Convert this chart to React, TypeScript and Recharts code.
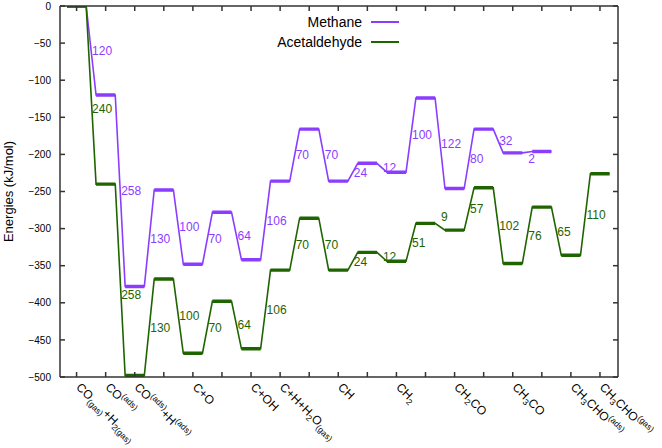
import React from 'react';
import { ComposedChart, Line, Scatter, XAxis, YAxis, Legend } from 'recharts';

const FONT = '"Liberation Sans", Arial, Helvetica, sans-serif';

// Reaction steps (x positions of the energy levels)
const steps = [0, 1, 2, 3, 4, 5, 6, 7, 8, 9, 10, 11, 12, 13, 14, 15, 16, 17, 18];
const yTicks = [0, -50, -100, -150, -200, -250, -300, -350, -400, -450, -500];

// Energy levels (kJ/mol)
const methane = [0, -120, -378, -248, -348, -278, -342, -236, -166, -236, -212, -224, -124, -246, -166, -198, -196];
const acetaldehyde = [0, -240, -498, -368, -468, -398, -462, -356, -286, -356, -332, -344, -293, -302, -245, -347, -271, -336, -226];

// Printed step energies
const methaneSteps = [120, 258, 130, 100, 70, 64, 106, 70, 70, 24, 12, 100, 122, 80, 32, 2];
const acetaldehydeSteps = [240, 258, 130, 100, 70, 64, 106, 70, 70, 24, 12, 51, 9, 57, 102, 76, 65, 110];

// small pixel nudges of a few printed labels
const methaneNudge = [0, 0, 0, 0, 0, 0, 0, 0, 0, 0, 0, 0, 0, 0, 0, 7];
const acetaldehydeNudge = [14, 15, 0, 0, 0, 0, 0, 0, 0, 0, 0, 0, -10.5, 0, 0, 0, 0, 0];

const seriesNames = ['Methane', 'Acetaldehyde'];
const seriesColors = ['#8b3dff', '#1e6400'];

// x tick labels: [text, 'n' | 'sub' | 'sup']
const labelTicks = [0, 1, 2, 4, 6, 7, 9, 11, 13, 15, 17, 18];
const labelParts: [string, string][][] = [
  [['CO', 'n'], ['(gas)', 'sub'], ['+H', 'n'], ['2', 'sub'], ['(gas)', 'sub']],
  [['CO', 'n'], ['(ads)', 'sup']],
  [['CO', 'n'], ['(ads)', 'sup'], ['+H', 'n'], ['(ads)', 'sup']],
  [['C+O', 'n']],
  [['C+OH', 'n']],
  [['C+H+H', 'n'], ['2', 'sub'], ['O', 'n'], ['(gas)', 'sub']],
  [['CH', 'n']],
  [['CH', 'n'], ['2', 'sub']],
  [['CH', 'n'], ['2', 'sub'], ['CO', 'n']],
  [['CH', 'n'], ['3', 'sub'], ['CO', 'n']],
  [['CH', 'n'], ['3', 'sub'], ['CHO', 'n'], ['(ads)', 'sup']],
  [['CH', 'n'], ['3', 'sub'], ['CHO', 'n'], ['(gas)', 'sup']],
];

const HALF = 0.33;
const TICK_LEN = 5;
const AXIS_COLOR = '#333';
const TICK_W = 1.5;
const LABEL_FS = 12;
const SUB_FS = 8.5;

function allPoints(vals: number[]) {
  const pts: { x: number; y: number | null }[] = [];
  vals.forEach((v, k) => {
    pts.push({ x: k - HALF, y: v }, { x: k + HALF, y: v });
  });
  return pts;
}

function levelPoints(vals: number[]) {
  const pts: { x: number; y: number | null }[] = [];
  vals.forEach((v, k) => {
    if (k > 0) pts.push({ x: k - 0.5, y: null });
    pts.push({ x: k - HALF, y: v }, { x: k + HALF, y: v });
  });
  return pts;
}

function labelPoints(vals: number[], texts: number[], nudges: number[]) {
  return texts.map((t, i) => ({
    x: i + 0.5,
    y: (vals[i] + vals[i + 1]) / 2,
    text: String(t),
    nudge: nudges[i],
  }));
}

const series = [
  { vals: methane, texts: methaneSteps, nudges: methaneNudge },
  { vals: acetaldehyde, texts: acetaldehydeSteps, nudges: acetaldehydeNudge },
];

const X_MARGIN = 11;
const XTick = (props: any) => {
  const { x, y, payload } = props;
  const axisY = y - X_MARGIN;
  const idx = labelTicks.indexOf(payload.value);
  const line = (
    <line x1={x} x2={x} y1={axisY} y2={axisY - TICK_LEN} stroke={AXIS_COLOR} strokeWidth={TICK_W} />
  );
  if (idx < 0) return <g>{line}</g>;
  const parts = labelParts[idx];
  const ax = x - 1;
  const ay = y;
  let shift = 0;
  return (
    <g>
      {line}
      <text
        x={ax}
        y={ay}
        transform={`rotate(45 ${ax} ${ay})`}
        fontFamily={FONT}
        fontSize={LABEL_FS}
        fill="#000"
        textAnchor="start"
      >
        {parts.map(([t, kind], i) => {
          const target = kind === 'sub' ? 3 : kind === 'sup' ? -5 : 0;
          const dy = target - shift;
          shift = target;
          return (
            <tspan key={i} dy={dy} fontSize={kind === 'n' ? LABEL_FS : SUB_FS}>
              {t}
            </tspan>
          );
        })}
      </text>
    </g>
  );
};

const TopTick = (props: any) => {
  const { x, y } = props;
  return <line x1={x} x2={x} y1={y} y2={y + TICK_LEN} stroke={AXIS_COLOR} strokeWidth={TICK_W} />;
};

const RightTick = (props: any) => {
  const { x, y } = props;
  return <line x1={x} x2={x - TICK_LEN} y1={y} y2={y} stroke={AXIS_COLOR} strokeWidth={TICK_W} />;
};

const Y_MARGIN = 9;
const YTick = (props: any) => {
  const { x, y, payload } = props;
  const axisX = x + Y_MARGIN;
  const txt = String(payload.value).replace('-', '\u2212');
  return (
    <g>
      <line x1={axisX} x2={axisX + TICK_LEN} y1={y} y2={y} stroke={AXIS_COLOR} strokeWidth={TICK_W} />
      <text x={x} y={y} dy="0.36em" textAnchor="end" fontFamily={FONT} fontSize={10} fill="#000">
        {txt}
      </text>
    </g>
  );
};

const makeLabelShape = (color: string) => (p: any) => {
  const { cx, cy, payload } = p;
  return (
    <text
      x={cx + 1}
      y={cy + (payload.nudge || 0)}
      dy="0.36em"
      fontFamily={FONT}
      fontSize={12}
      fill={color}
      textAnchor="start"
    >
      {payload.text}
    </text>
  );
};

const LegendBox = () => (
  <div style={{ fontFamily: FONT, fontSize: 14, color: '#000' }}>
    {seriesNames.map((n, i) => (
      <div key={n} style={{ display: 'flex', alignItems: 'center', height: 20 }}>
        <div style={{ width: 100, textAlign: 'right', lineHeight: '20px' }}>{n}</div>
        <div style={{ width: 9 }} />
        <div style={{ width: 28, height: 0, borderTop: `2px solid ${seriesColors[i]}` }} />
      </div>
    ))}
  </div>
);

const YTitle = (props: any) => {
  const vb = props.viewBox || { x: 0, y: 6, width: 60, height: 371 };
  const cx = 13;
  const cy = vb.y + vb.height / 2;
  return (
    <text
      x={cx}
      y={cy}
      transform={`rotate(-90 ${cx} ${cy})`}
      textAnchor="middle"
      fontFamily={FONT}
      fontSize={13}
      fill="#000"
    >
      Energies (kJ/mol)
    </text>
  );
};

const axisStroke = { stroke: AXIS_COLOR, strokeWidth: 1.5 };
const X_DOMAIN: [number, number] = [-0.57, 18.62];
const THIN = 0.01;

export default function App() {
  return (
    <div style={{ position: 'absolute', left: 0, top: 0 }}>
      <ComposedChart
        width={662}
        height={448}
        margin={{ top: 6 - THIN, right: 44 - THIN, bottom: 0, left: 0 }}
      >
        <XAxis
          xAxisId={0}
          type="number"
          dataKey="x"
          domain={X_DOMAIN}
          ticks={steps}
          interval={0}
          allowDataOverflow
          height={71}
          tickSize={0}
          tickMargin={X_MARGIN}
          tick={<XTick />}
          axisLine={axisStroke}
          tickLine={false}
        />
        <XAxis
          xAxisId="top"
          orientation="top"
          type="number"
          dataKey="x"
          domain={X_DOMAIN}
          ticks={steps}
          interval={0}
          allowDataOverflow
          height={THIN}
          tickSize={0}
          tickMargin={0}
          tick={<TopTick />}
          axisLine={axisStroke}
          tickLine={false}
        />
        <YAxis
          yAxisId={0}
          type="number"
          domain={[-500, 0]}
          ticks={yTicks}
          interval={0}
          allowDataOverflow
          width={60}
          tickSize={0}
          tickMargin={Y_MARGIN}
          tick={<YTick />}
          axisLine={axisStroke}
          tickLine={false}
          label={<YTitle />}
        />
        <YAxis
          yAxisId="right"
          orientation="right"
          type="number"
          domain={[-500, 0]}
          ticks={yTicks}
          interval={0}
          allowDataOverflow
          width={THIN}
          tickSize={0}
          tickMargin={0}
          tick={<RightTick />}
          axisLine={axisStroke}
          tickLine={false}
        />
        <Legend
          layout="vertical"
          align="center"
          verticalAlign="middle"
          wrapperStyle={{ position: 'absolute', left: 262, top: 11.5, width: 140, height: 40 }}
          content={() => <LegendBox />}
        />
        {series.map((s, i) => (
          <Line
            key={`thin${i}`}
            data={allPoints(s.vals)}
            dataKey="y"
            type="linear"
            stroke={seriesColors[i]}
            strokeWidth={1.6}
            dot={false}
            activeDot={false}
            isAnimationActive={false}
            name={seriesNames[i]}
          />
        ))}
        {series.map((s, i) => (
          <Line
            key={`lvl${i}`}
            data={levelPoints(s.vals)}
            dataKey="y"
            type="linear"
            stroke={seriesColors[i]}
            strokeWidth={3.4}
            dot={false}
            activeDot={false}
            connectNulls={false}
            isAnimationActive={false}
            legendType="none"
          />
        ))}
        {series.map((s, i) => (
          <Scatter
            key={`lab${i}`}
            xAxisId="top"
            yAxisId="right"
            data={labelPoints(s.vals, s.texts, s.nudges)}
            dataKey="y"
            shape={makeLabelShape(seriesColors[i])}
            isAnimationActive={false}
            legendType="none"
          />
        ))}
      </ComposedChart>
    </div>
  );
}
